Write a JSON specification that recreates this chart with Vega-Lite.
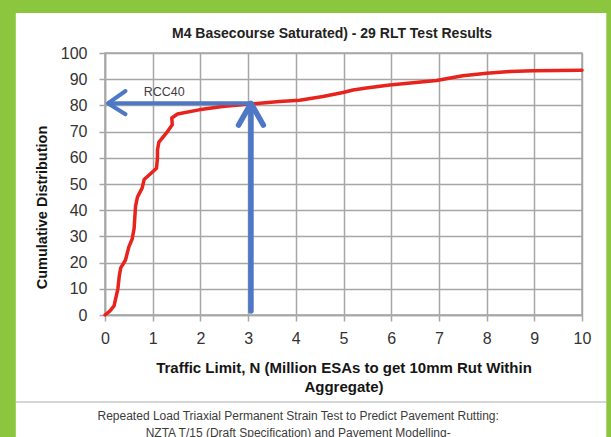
{
  "$schema": "https://vega.github.io/schema/vega-lite/v6.json",
  "autosize": "none",
  "width": 477,
  "height": 262,
  "padding": {"left": 105, "top": 53, "right": 29, "bottom": 122},
  "background": "white",
  "config": {
    "view": {"stroke": "#a6a6a6", "strokeWidth": 1.5},
    "font": "Liberation Sans",
    "axis": {
      "grid": true, "gridColor": "#a6a6a6", "gridWidth": 1.5,
      "domainColor": "#a6a6a6", "domainWidth": 1.5,
      "tickColor": "#a6a6a6", "tickWidth": 1.5, "tickSize": 6,
      "labelFontSize": 16, "labelColor": "#333333",
      "labelFlush": false, "labelOverlap": false,
      "titleFontWeight": "bold", "titleColor": "#151515"
    },
    "axisX": {"labelPadding": 9, "titleFontSize": 15, "titlePadding": 14, "titleLineHeight": 19},
    "axisY": {"labelPadding": 12, "titleFontSize": 14.5, "titleX": -63, "titleY": 154, "titleAlign": "center", "titleBaseline": "middle"}
  },
  "datasets": {
    "curve": [
      {"i": 1, "n": 0.0, "pct": 0},
      {"i": 2, "n": 0.1, "pct": 1.5},
      {"i": 3, "n": 0.19, "pct": 3.5},
      {"i": 4, "n": 0.27, "pct": 10},
      {"i": 5, "n": 0.3, "pct": 15},
      {"i": 6, "n": 0.33, "pct": 18},
      {"i": 7, "n": 0.43, "pct": 21},
      {"i": 8, "n": 0.5, "pct": 26},
      {"i": 9, "n": 0.57, "pct": 29},
      {"i": 10, "n": 0.61, "pct": 33},
      {"i": 11, "n": 0.64, "pct": 41.5},
      {"i": 12, "n": 0.68, "pct": 45},
      {"i": 13, "n": 0.78, "pct": 48.5},
      {"i": 14, "n": 0.82, "pct": 51.7},
      {"i": 15, "n": 0.96, "pct": 54},
      {"i": 16, "n": 1.08, "pct": 56},
      {"i": 17, "n": 1.1, "pct": 60},
      {"i": 18, "n": 1.1, "pct": 63},
      {"i": 19, "n": 1.13, "pct": 66},
      {"i": 20, "n": 1.31, "pct": 70},
      {"i": 21, "n": 1.41, "pct": 72.6},
      {"i": 22, "n": 1.4, "pct": 75.2},
      {"i": 23, "n": 1.52, "pct": 76.7},
      {"i": 24, "n": 1.97, "pct": 78.3},
      {"i": 25, "n": 2.46, "pct": 79.6},
      {"i": 26, "n": 3.03, "pct": 80.5},
      {"i": 27, "n": 3.66, "pct": 81.5},
      {"i": 28, "n": 4.08, "pct": 82},
      {"i": 29, "n": 4.57, "pct": 83.4},
      {"i": 30, "n": 4.99, "pct": 84.9},
      {"i": 31, "n": 5.2, "pct": 85.9},
      {"i": 32, "n": 5.48, "pct": 86.6},
      {"i": 33, "n": 5.97, "pct": 87.8},
      {"i": 34, "n": 6.95, "pct": 89.5},
      {"i": 35, "n": 7.5, "pct": 91.3},
      {"i": 36, "n": 8.0, "pct": 92.3},
      {"i": 37, "n": 8.49, "pct": 92.9},
      {"i": 38, "n": 8.98, "pct": 93.2},
      {"i": 39, "n": 10, "pct": 93.4}
    ],
    "vArrow": [
      {"seg": "shaft", "o": 1, "n": 3.06, "pct": 1.5},
      {"seg": "shaft", "o": 2, "n": 3.06, "pct": 80.4},
      {"seg": "head", "o": 1, "n": 2.8, "pct": 72.5},
      {"seg": "head", "o": 2, "n": 3.06, "pct": 80.8},
      {"seg": "head", "o": 3, "n": 3.32, "pct": 72.5}
    ],
    "hArrow": [
      {"seg": "shaft", "o": 1, "n": 3.06, "pct": 80.8},
      {"seg": "shaft", "o": 2, "n": 0.08, "pct": 80.8},
      {"seg": "head", "o": 1, "n": 0.43, "pct": 85.5},
      {"seg": "head", "o": 2, "n": 0.06, "pct": 80.8},
      {"seg": "head", "o": 3, "n": 0.43, "pct": 76.6}
    ]
  },
  "layer": [
    {
      "data": {"name": "curve"},
      "mark": {"type": "line", "color": "#e8231d", "strokeWidth": 3.5, "strokeJoin": "round", "strokeCap": "round"},
      "encoding": {
        "x": {"field": "n", "type": "quantitative", "scale": {"domain": [0, 10], "nice": false, "zero": false},
          "axis": {"values": [0, 1, 2, 3, 4, 5, 6, 7, 8, 9, 10], "title": ["Traffic Limit, N (Million ESAs to get 10mm Rut Within", "Aggregate)"]}},
        "y": {"field": "pct", "type": "quantitative", "scale": {"domain": [0, 100], "nice": false},
          "axis": {"values": [0, 10, 20, 30, 40, 50, 60, 70, 80, 90, 100], "title": "Cumulative Distribution"}},
        "order": {"field": "i", "type": "quantitative"}
      }
    },
    {
      "data": {"name": "vArrow"},
      "mark": {"type": "line", "color": "#4e78c6", "strokeWidth": 5.5, "strokeCap": "round", "strokeJoin": "round"},
      "encoding": {
        "x": {"field": "n", "type": "quantitative",
          "axis": {"values": [0, 1, 2, 3, 4, 5, 6, 7, 8, 9, 10], "title": ["Traffic Limit, N (Million ESAs to get 10mm Rut Within", "Aggregate)"]}},
        "y": {"field": "pct", "type": "quantitative",
          "axis": {"values": [0, 10, 20, 30, 40, 50, 60, 70, 80, 90, 100], "title": "Cumulative Distribution"}},
        "detail": {"field": "seg"},
        "order": {"field": "o", "type": "quantitative"}
      }
    },
    {
      "data": {"name": "hArrow"},
      "mark": {"type": "line", "color": "#4e78c6", "strokeWidth": 4, "strokeCap": "round", "strokeJoin": "round"},
      "encoding": {
        "x": {"field": "n", "type": "quantitative",
          "axis": {"values": [0, 1, 2, 3, 4, 5, 6, 7, 8, 9, 10], "title": ["Traffic Limit, N (Million ESAs to get 10mm Rut Within", "Aggregate)"]}},
        "y": {"field": "pct", "type": "quantitative",
          "axis": {"values": [0, 10, 20, 30, 40, 50, 60, 70, 80, 90, 100], "title": "Cumulative Distribution"}},
        "detail": {"field": "seg"},
        "order": {"field": "o", "type": "quantitative"}
      }
    },
    {
      "data": {"values": [{"label": "RCC40"}]},
      "mark": {"type": "text", "fontSize": 12.5, "color": "#404040", "align": "center", "baseline": "middle"},
      "encoding": {
        "x": {"datum": 1.24, "axis": {"values": [0, 1, 2, 3, 4, 5, 6, 7, 8, 9, 10], "title": ["Traffic Limit, N (Million ESAs to get 10mm Rut Within", "Aggregate)"]}},
        "y": {"datum": 85.3, "axis": {"values": [0, 10, 20, 30, 40, 50, 60, 70, 80, 90, 100], "title": "Cumulative Distribution"}},
        "text": {"field": "label"}
      }
    },
    {
      "data": {"values": [{"label": "M4 Basecourse Saturated) - 29 RLT Test Results"}]},
      "mark": {"type": "text", "fontSize": 14, "fontWeight": "bold", "color": "#222222", "align": "center", "baseline": "middle"},
      "encoding": {
        "x": {"datum": 4.76, "axis": {"values": [0, 1, 2, 3, 4, 5, 6, 7, 8, 9, 10], "title": ["Traffic Limit, N (Million ESAs to get 10mm Rut Within", "Aggregate)"]}},
        "y": {"datum": 107.4, "axis": {"values": [0, 10, 20, 30, 40, 50, 60, 70, 80, 90, 100], "title": "Cumulative Distribution"}},
        "text": {"field": "label"}
      }
    },
    {
      "data": {"values": [{}]},
      "mark": {"type": "rule", "color": "#c8c8c8", "strokeWidth": 1.5},
      "encoding": {
        "x": {"datum": -1.87, "axis": {"values": [0, 1, 2, 3, 4, 5, 6, 7, 8, 9, 10], "title": ["Traffic Limit, N (Million ESAs to get 10mm Rut Within", "Aggregate)"]}},
        "x2": {"datum": 10.51},
        "y": {"datum": -33.2, "axis": {"values": [0, 10, 20, 30, 40, 50, 60, 70, 80, 90, 100], "title": "Cumulative Distribution"}}
      }
    },
    {
      "data": {"values": [{"caption": "Repeated Load Triaxial Permanent Strain Test to Predict Pavement Rutting:"}]},
      "mark": {"type": "text", "font": "Liberation Sans", "fontSize": 12, "color": "#3c3c3c", "align": "center", "baseline": "middle"},
      "encoding": {
        "x": {"datum": 4.05, "axis": {"values": [0, 1, 2, 3, 4, 5, 6, 7, 8, 9, 10], "title": ["Traffic Limit, N (Million ESAs to get 10mm Rut Within", "Aggregate)"]}},
        "y": {"datum": -38.5, "axis": {"values": [0, 10, 20, 30, 40, 50, 60, 70, 80, 90, 100], "title": "Cumulative Distribution"}},
        "text": {"field": "caption"}
      }
    },
    {
      "data": {"values": [{"caption": "NZTA T/15 (Draft Specification) and Pavement Modelling-"}]},
      "mark": {"type": "text", "font": "Liberation Sans", "fontSize": 12, "color": "#3c3c3c", "align": "center", "baseline": "middle"},
      "encoding": {
        "x": {"datum": 4.05, "axis": {"values": [0, 1, 2, 3, 4, 5, 6, 7, 8, 9, 10], "title": ["Traffic Limit, N (Million ESAs to get 10mm Rut Within", "Aggregate)"]}},
        "y": {"datum": -45.2, "axis": {"values": [0, 10, 20, 30, 40, 50, 60, 70, 80, 90, 100], "title": "Cumulative Distribution"}},
        "text": {"field": "caption"}
      }
    },
    {
      "data": {"values": [{}]},
      "mark": {"type": "rect", "color": "#8cc63f"},
      "encoding": {
        "x": {"datum": -2.5, "axis": {"values": [0, 1, 2, 3, 4, 5, 6, 7, 8, 9, 10], "title": ["Traffic Limit, N (Million ESAs to get 10mm Rut Within", "Aggregate)"]}},
        "x2": {"datum": 11},
        "y": {"datum": 115.3, "axis": {"values": [0, 10, 20, 30, 40, 50, 60, 70, 80, 90, 100], "title": "Cumulative Distribution"}},
        "y2": {"datum": 125}
      }
    },
    {
      "data": {"values": [{}]},
      "mark": {"type": "rect", "color": "#8cc63f"},
      "encoding": {
        "x": {"datum": -2.5, "axis": {"values": [0, 1, 2, 3, 4, 5, 6, 7, 8, 9, 10], "title": ["Traffic Limit, N (Million ESAs to get 10mm Rut Within", "Aggregate)"]}},
        "x2": {"datum": -1.87},
        "y": {"datum": -60, "axis": {"values": [0, 10, 20, 30, 40, 50, 60, 70, 80, 90, 100], "title": "Cumulative Distribution"}},
        "y2": {"datum": 125}
      }
    },
    {
      "data": {"values": [{}]},
      "mark": {"type": "rect", "color": "#8cc63f"},
      "encoding": {
        "x": {"datum": 10.51, "axis": {"values": [0, 1, 2, 3, 4, 5, 6, 7, 8, 9, 10], "title": ["Traffic Limit, N (Million ESAs to get 10mm Rut Within", "Aggregate)"]}},
        "x2": {"datum": 11},
        "y": {"datum": -60, "axis": {"values": [0, 10, 20, 30, 40, 50, 60, 70, 80, 90, 100], "title": "Cumulative Distribution"}},
        "y2": {"datum": 125}
      }
    }
  ]
}
